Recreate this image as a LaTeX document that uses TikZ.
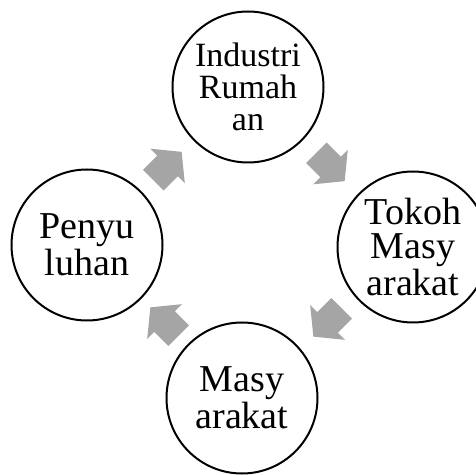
\documentclass[tikz,border=0pt]{standalone}
\usepackage{fontspec}
\setmainfont{Liberation Serif}
\usetikzlibrary{shapes,arrows,calc}
\definecolor{arrowgray}{HTML}{A5A5A5}

\begin{document}
\begin{tikzpicture}[x=0.5pt,y=-0.5pt,
circ/.style={circle,draw,line width=1pt,minimum size=75.5pt,inner sep=0pt,align=center,font=\fontsize{19}{17.25}\selectfont},
blockarrow/.pic={\fill[arrowgray] (-10pt,-7.25pt) -- (0pt,-7.25pt) -- (0pt,-12.25pt) -- (10pt,0pt)
        -- (0pt,12.25pt) -- (0pt,7.25pt) -- (-10pt,7.25pt) -- cycle;}]

        \useasboundingbox (0,0) rectangle (476,475);

        \node [circ, font=\fontsize{17}{16}\selectfont] (ind) at (248,87) {Industri\\Rumah\\an};
        \node [circ] (tok) at (413,247) {Tokoh\\Masy\\arakat};
        \node [circ] (mas) at (242,398) {Masy\\arakat};
        \node [circ] (pen) at (87,245) {Penyu\\luhan};

        % arrows between the circles
        \pic [rotate=45] at ($(pen)!0.5!(ind)$) {blockarrow};
        \pic [rotate=-45] at ($(ind)!0.5!(tok)$) {blockarrow};
        \pic [rotate=-135] at ($(tok)!0.5!(mas)$) {blockarrow};
        \pic [rotate=135] at ($(mas)!0.5!(pen)$) {blockarrow};
    \end{tikzpicture}
\end{document}
